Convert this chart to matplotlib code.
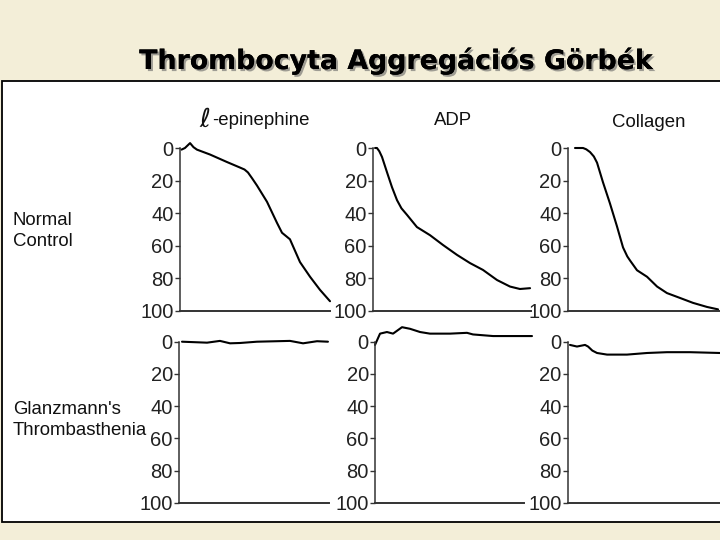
import matplotlib
matplotlib.use("Agg")
import matplotlib.pyplot as plt
import matplotlib.patheffects as pe
from matplotlib.patches import Rectangle

# ---------------- data (normalised time 0..1, % aggregation) ----------------
row_labels = ["Normal\nControl", "Glanzmann's\nThrombasthenia"]
col_titles = ["-epinephine", "ADP", "Collagen"]
yticks = [0, 20, 40, 60, 80, 100]
ytick_labels = ["0", "20", "40", "60", "80", "100"]

epi_norm_x = [0.01, 0.033, 0.067, 0.09, 0.113, 0.2, 0.313, 0.4, 0.43, 0.453, 0.48, 0.513, 0.58, 0.647, 0.68, 0.733, 0.8, 0.867, 0.933, 1.0]
epi_norm_y = [1, 0, -3, -0.5, 1, 4, 8.6, 12, 13.2, 15, 18.5, 23, 33, 46, 52, 56, 70, 79, 87, 94]

adp_norm_x = [0.013, 0.025, 0.04, 0.057, 0.089, 0.12, 0.152, 0.18, 0.215, 0.278, 0.361, 0.443, 0.532, 0.614, 0.696, 0.785, 0.867, 0.93, 0.994]
adp_norm_y = [0, 0, 2, 5.5, 15, 24, 32, 37, 41, 48.5, 53.5, 59.5, 65.6, 70.6, 74.8, 81, 85, 86.5, 86]

col_norm_x = [0.046, 0.099, 0.12, 0.145, 0.17, 0.191, 0.23, 0.276, 0.322, 0.362, 0.39, 0.408, 0.454, 0.52, 0.586, 0.651, 0.737, 0.822, 0.914, 0.987]
col_norm_y = [0, 0, 0.8, 2.5, 5.2, 9, 21, 34, 48, 61, 66.5, 69, 75, 79, 85, 89, 92, 95, 97.5, 99]

epi_gt_x = [0.02, 0.187, 0.273, 0.34, 0.407, 0.52, 0.74, 0.827, 0.92, 0.993]
epi_gt_y = [0, 0.6, -0.5, 1, 0.8, 0, -0.5, 1, -0.3, 0]

adp_gt_x = [0.0, 0.032, 0.076, 0.115, 0.172, 0.223, 0.287, 0.35, 0.478, 0.586, 0.624, 0.752, 0.879, 1.0]
adp_gt_y = [2, -5, -6, -5, -9, -8, -6, -5, -5, -5.5, -4.5, -3.5, -3.5, -3.5]

col_gt_x = [0.013, 0.059, 0.112, 0.132, 0.16, 0.191, 0.257, 0.388, 0.52, 0.651, 0.803, 1.0]
col_gt_y = [2, 3, 2, 3, 5.5, 7, 8, 8, 7, 6.5, 6.5, 7]

series = [[(epi_norm_x, epi_norm_y), (adp_norm_x, adp_norm_y), (col_norm_x, col_norm_y)],
          [(epi_gt_x, epi_gt_y), (adp_gt_x, adp_gt_y), (col_gt_x, col_gt_y)]]

# ---------------- figure ----------------
W, H = 720, 540
fig = plt.figure(figsize=(7.2, 5.4), dpi=100)
fig.patch.set_facecolor("#f3eed8")

# white content panel
fig.patches.append(Rectangle((2 / W, 1 - 522 / H), 1.0, (522 - 81) / H,
                             transform=fig.transFigure, facecolor="white",
                             edgecolor="black", linewidth=1.3, zorder=-5))

# title with shadow
fig.text(396 / W, 1 - 69 / H, "Thrombocyta Aggregációs Görbék",
         ha="center", va="baseline", fontsize=19.3, fontweight="bold",
         family="DejaVu Sans", color="black",
         path_effects=[pe.withSimplePatchShadow(offset=(1.5, -1.5), shadow_rgbFace="#666666", alpha=0.6),
                       pe.Normal()])

FONT = ["Liberation Sans", "DejaVu Sans"]
YMIN = -12

# pixel layout of the axes: (left, right) per column; (y0px, y100px) per row
col_px = [[(180, 330), (373, 531), (568, 720)],
          [(179, 329), (375, 532), (568, 720)]]
row_px = [(148, 311), (341.7, 503)]
xspine_end = [[1.0, 1.0, 1.0], [1.0, 0.95, 1.0]]

for r in range(2):
    y0, y100 = row_px[r]
    ppu = (y100 - y0) / 100.0
    top_px = y0 + YMIN * ppu
    for c in range(3):
        l, rr = col_px[r][c]
        ax = fig.add_axes([l / W, 1 - y100 / H, (rr - l) / W, (y100 - top_px) / H])
        ax.set_facecolor("none")
        ax.set_zorder(2)
        xs, ys = series[r][c]
        ax.plot(xs, ys, color="black", linewidth=1.5, solid_joinstyle="round",
                solid_capstyle="round", clip_on=False)
        ax.set_xlim(0, 1)
        ax.set_ylim(100, YMIN)
        for s in ("top", "right"):
            ax.spines[s].set_visible(False)
        ax.spines["left"].set_bounds(0, 100)
        ax.spines["bottom"].set_bounds(0, xspine_end[r][c])
        ax.spines["left"].set_color("#333333")
        ax.spines["bottom"].set_color("#333333")
        ax.spines["left"].set_linewidth(1.1)
        ax.spines["bottom"].set_linewidth(1.4)
        ax.set_xticks([])
        ax.set_yticks(yticks)
        ax.set_yticklabels(ytick_labels, family=FONT, fontsize=14.5, color="#222222")
        ax.tick_params(axis="y", direction="out", length=3.5, width=1.0,
                       color="#333333", pad=1)

# row labels
fig.text(13 / W, 1 - 231 / H, row_labels[0], ha="left", va="center",
         family=FONT, fontsize=13.4, color="#111111", linespacing=1.25)
fig.text(13 / W, 1 - 420 / H, row_labels[1], ha="left", va="center",
         family=FONT, fontsize=13.4, color="#111111", linespacing=1.25)

# column titles
fig.text(199 / W, 1 - 127 / H, "ℓ", ha="left", va="baseline",
         family=["DejaVu Serif", "DejaVu Sans"], fontsize=19, color="#111111")
fig.text(212 / W, 1 - 125 / H, col_titles[0], ha="left", va="baseline",
         family=FONT, fontsize=13.4, color="#111111")
fig.text(453 / W, 1 - 125 / H, col_titles[1], ha="center", va="baseline",
         family=FONT, fontsize=13.4, color="#111111")
fig.text(649 / W, 1 - 127 / H, col_titles[2], ha="center", va="baseline",
         family=FONT, fontsize=13.4, color="#111111")

fig.savefig("out.png", dpi=100, facecolor=fig.get_facecolor())
